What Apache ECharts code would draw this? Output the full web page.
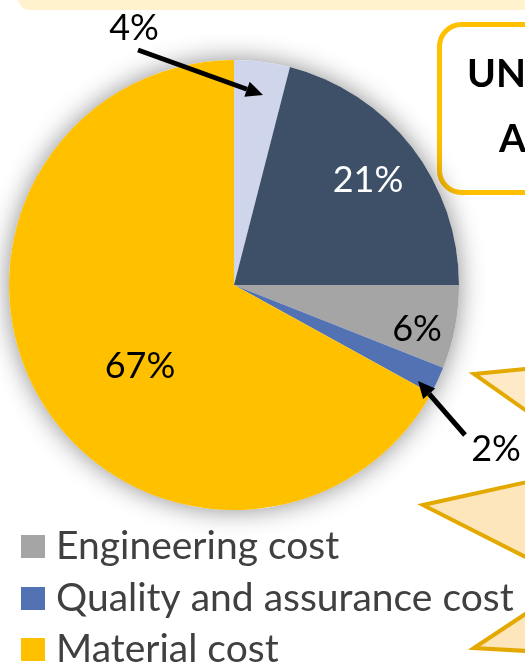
<!DOCTYPE html>
<html>
<head>
<meta charset="utf-8">
<script src="https://cdn.jsdelivr.net/npm/echarts@6/dist/echarts.min.js"></script>
<style>
  html, body { margin: 0; padding: 0; background: #ffffff; }
  #chart { width: 525px; height: 664px; }
</style>
</head>
<body>
<div id="chart"></div>
<script>
// Cost breakdown shares (percent), clockwise from 12 o'clock
const categories = ['Design cost', 'Manufacturing cost', 'Engineering cost', 'Quality and assurance cost', 'Material cost'];
const shares = [4, 21, 6, 2, 67];
const sliceColors = ['#cfd5ea', '#3e4f68', '#a5a5a5', '#5272b4', '#ffc000'];
const labelColors = ['#000000', '#ffffff', '#000000', '#000000', '#000000'];
const legendItems = ['Engineering cost', 'Quality and assurance cost', 'Material cost'];

// where each percentage label sits (pixel anchors, centred), in slice order
const labelAnchors = [[134, 28], [368, 180], [417, 329], [496, 449], [140, 366]];
// top edge of each legend row
const legendTops = [527, 579, 630];

const FONT = 'Lato, "Open Sans", sans-serif';

function arrow(x1, y1, x2, y2) {
  const ang = Math.atan2(y2 - y1, x2 - x1);
  const len = 17, half = 8;
  const bx = x2 - Math.cos(ang) * len, by = y2 - Math.sin(ang) * len;
  const px = -Math.sin(ang) * half, py = Math.cos(ang) * half;
  return [
    { type: 'line', z: 100, shape: { x1: x1, y1: y1, x2: bx, y2: by },
      style: { stroke: '#000', lineWidth: 5 } },
    { type: 'polygon', z: 100, shape: { points: [[x2, y2], [bx + px, by + py], [bx - px, by - py]] },
      style: { fill: '#000' } }
  ];
}

const chart = echarts.init(document.getElementById('chart'), null, { renderer: 'canvas' });

chart.setOption({
  backgroundColor: '#ffffff',
  animation: false,
  legend: legendItems.map((name, i) => ({
    data: [name],
    orient: 'vertical',
    left: 21,
    top: legendTops[i],
    padding: 0,
    icon: 'rect',
    itemWidth: 24,
    itemHeight: 23,
    selectedMode: false,
    textStyle: { fontFamily: FONT, fontSize: 39, color: '#404040', padding: [0, 0, 0, 6] }
  })),
  graphic: [
    // banner strip along the top
    { type: 'rect', z: 1, shape: { x: 18, y: -20, width: 520, height: 30, r: 12 },
      style: { fill: '#fff2cc' } },
    // heading box at upper right
    { type: 'rect', z: 1, shape: { x: 439.5, y: 24.5, width: 120, height: 168, r: 22 },
      style: { fill: '#ffffff', stroke: '#ffc000', lineWidth: 5 } },
    { type: 'text', z: 2, left: 467, top: 55,
      style: { text: 'UN', font: 'bold 39px ' + FONT, fill: '#000' } },
    { type: 'text', z: 2, left: 499, top: 120,
      style: { text: 'A', font: 'bold 39px ' + FONT, fill: '#000' } },
    // callout pointers along the right edge
    { type: 'polygon', z: 1, shape: { points: [[474, 374], [545, 367], [545, 424]] },
      style: { fill: '#feeac6', stroke: '#e3a900', lineWidth: 4 } },
    { type: 'polygon', z: 1, shape: { points: [[423, 505], [545, 478], [545, 567]] },
      style: { fill: '#fde6bb', stroke: '#e3a900', lineWidth: 4 } },
    { type: 'polygon', z: 1, shape: { points: [[474, 648], [545, 601], [545, 652]] },
      style: { fill: '#fde6bb', stroke: '#e3a900', lineWidth: 4 } }
  ].concat(arrow(138, 50, 263, 95), arrow(465, 435, 418, 381)),
  series: [
    {
      // soft drop shadow beneath the pie
      type: 'pie',
      silent: true,
      center: [234, 285],
      radius: 225,
      label: { show: false },
      labelLine: { show: false },
      itemStyle: { color: '#ffffff', shadowBlur: 26, shadowColor: 'rgba(0,0,0,0.45)' },
      data: [{ value: 1, name: '' }],
      z: 1
    },
    {
      type: 'pie',
      center: [234, 285],
      radius: 225,
      startAngle: 90,
      clockwise: true,
      z: 3,
      label: {
        show: true,
        position: 'inside',
        formatter: p => p.value + '%',
        fontFamily: FONT,
        fontSize: 36
      },
      labelLine: { show: false },
      labelLayout: p => ({
        x: labelAnchors[p.dataIndex][0],
        y: labelAnchors[p.dataIndex][1],
        align: 'center',
        verticalAlign: 'middle'
      }),
      emphasis: { disabled: true },
      data: categories.map((name, i) => ({
        name: name,
        value: shares[i],
        itemStyle: { color: sliceColors[i] },
        label: { color: labelColors[i] }
      }))
    }
  ]
});
</script>
</body>
</html>
